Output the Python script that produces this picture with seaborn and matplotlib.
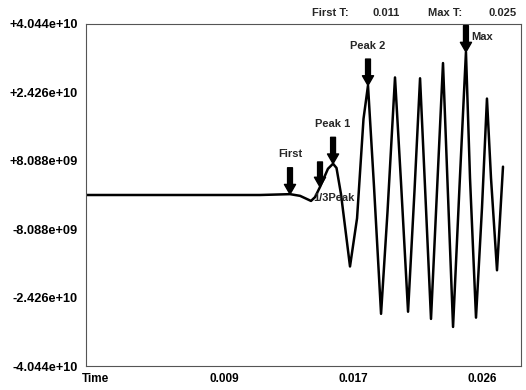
import matplotlib
matplotlib.use('Agg')
import matplotlib.pyplot as plt
import seaborn as sns
import numpy as np
import pandas as pd

# waveform (time in s, amplitude)
time = [-0.0006, 0.0110, 0.0130, 0.01367, 0.0144, 0.01467, 0.0150, 0.01553, 0.01587,
        0.0161, 0.0164, 0.0170, 0.01747, 0.0179, 0.0182, 0.0186, 0.01907, 0.0195,
        0.0200, 0.0204, 0.02087, 0.0213, 0.02167, 0.0220, 0.0224, 0.0228, 0.0232,
        0.0235, 0.02387, 0.0243, 0.02473, 0.0250, 0.0254, 0.0258, 0.02613, 0.0264,
        0.0268, 0.0272]
amp = [0.0, 0.0, 0.02e10, -0.02e10, -0.14e10, -0.05e10, 0.19e10, 0.62e10, 0.74e10,
       0.64e10, 0.02e10, -1.69e10, -0.55e10, 1.8e10, 2.59e10, 0.2e10, -2.81e10, -0.4e10,
       2.78e10, 0.3e10, -2.76e10, 0.1e10, 2.76e10, 0.2e10, -2.93e10, 0.1e10, 3.12e10,
       0.3e10, -3.12e10, 0.2e10, 3.38e10, 0.4e10, -2.90e10, -0.3e10, 2.28e10, 0.4e10,
       -1.78e10, 0.67e10]

ytick_vals = [4.044e10, 2.426e10, 8.088e9, -8.088e9, -2.426e10, -4.044e10]
ytick_labels = ['+4.044e+10', '+2.426e+10', '+8.088e+09', '-8.088e+09', '-2.426e+10', '-4.044e+10']
xtick_vals = [0.0, 0.0086, 0.0172, 0.0258]
xtick_labels = ['Time', '0.009', '0.017', '0.026']

# marker labels and the trace index they point at
markers = ['First', '1/3Peak', 'Peak 1', 'Peak 2', 'Max']
marker_idx = [2, 6, 8, 14, 30]

first_t = '0.011'
max_t = '0.025'

df = pd.DataFrame({'t': time, 'v': amp})

sns.set_theme(style='white')
plt.rcParams['font.family'] = ['Liberation Sans', 'DejaVu Sans']

fig = plt.figure(figsize=(5.26, 3.9), dpi=100)
ax = fig.add_axes([0.1635, 0.0615, 0.827, 0.877])

sns.lineplot(data=df, x='t', y='v', ax=ax, color='black', linewidth=1.8,
             estimator=None, sort=False)

ax.set_xlim(-0.0006, 0.0284)
ax.set_ylim(-4.044e10, 4.044e10)
ax.set_yticks(ytick_vals)
ax.set_yticklabels(ytick_labels, fontsize=9.2, fontweight='bold')
ax.set_xticks(xtick_vals)
ax.set_xticklabels(xtick_labels, fontsize=8.5, fontweight='bold')
ax.tick_params(axis='y', length=0, pad=6, colors='black')
ax.tick_params(axis='x', length=0, pad=5, colors='black')
ax.set_xlabel('')
ax.set_ylabel('')
for s in ax.spines.values():
    s.set_color('#555555')
    s.set_linewidth(0.8)

arrow = dict(facecolor='black', edgecolor='black', width=3.5, headwidth=8, headlength=7)
for name, i in zip(markers, marker_idx):
    pt = (time[i], amp[i])
    if name == 'Max':
        ax.annotate('', xy=pt, xytext=(0, 19), textcoords='offset points',
                    arrowprops=arrow, annotation_clip=False)
        ax.annotate(name, xy=pt, xytext=(4, 11), textcoords='offset points',
                    fontsize=8, fontweight='bold', va='center', ha='left')
    elif name == '1/3Peak':
        ax.annotate('', xy=pt, xytext=(0, 18), textcoords='offset points',
                    arrowprops=arrow)
        ax.annotate(name, xy=pt, xytext=(-5, -8), textcoords='offset points',
                    fontsize=8, fontweight='bold', va='center', ha='left')
    else:
        ax.annotate('', xy=pt, xytext=(0, 19), textcoords='offset points',
                    arrowprops=arrow)
        ax.annotate(name, xy=pt, xytext=(0, 25), textcoords='offset points',
                    fontsize=8, fontweight='bold', va='bottom', ha='center')

fig.text(0.593, 0.966, 'First T:', fontsize=8, fontweight='bold', va='center')
fig.text(0.709, 0.966, first_t, fontsize=8, fontweight='bold', va='center')
fig.text(0.814, 0.966, 'Max T:', fontsize=8, fontweight='bold', va='center')
fig.text(0.928, 0.966, max_t, fontsize=8, fontweight='bold', va='center')

fig.savefig('out.png', dpi=100, facecolor='white')
